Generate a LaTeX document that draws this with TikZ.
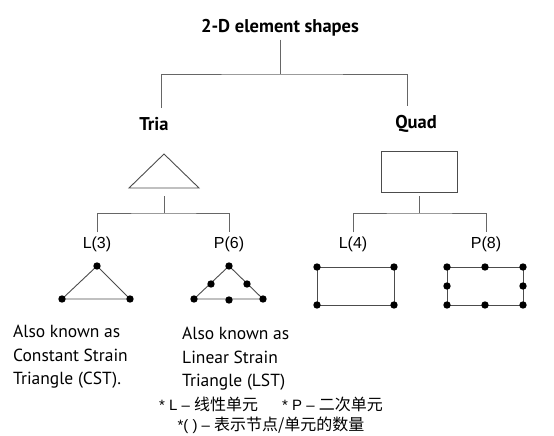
\documentclass[tikz,border=0pt]{standalone}
\usepackage{fontspec}
\setmainfont{PT Sans}
\newfontfamily\labelfont{Liberation Sans}
\newfontfamily\cjk{Noto Sans CJK SC}
\usetikzlibrary{positioning}
\newcommand\zh[1]{{\cjk\fontsize{16}{20}\selectfont #1}}

\begin{document}
\begin{tikzpicture}[x=1pt,y=-1pt,
  head/.style={font=\fontsize{18.5}{22}\selectfont\bfseries,inner sep=3pt},
  elem/.style={font=\labelfont\fontsize{16}{19}\selectfont,inner sep=4pt},
  note/.style={font=\fontsize{17.5}{23.5}\selectfont,align=left,inner sep=0pt},
  branch/.style={draw=black!60,line width=0.9pt},
  shp/.style={draw=black!70,line width=0.9pt}]
\useasboundingbox (0,0) rectangle (554,436);
\node[head] (title) at (280,28) {2-D element shapes};
\node[head] (tria) at (154,124) {Tria};
\node[head] (quad) at (416,124) {Quad};
\coordinate (j0) at (280,74);
\draw[branch] (title) -- (j0);
\draw[branch] ([xshift=7pt,yshift=6pt]tria.north) |- (j0) -| ([xshift=-9pt,yshift=6pt]quad.north);

\draw[shp] (129,188) -- (164,154) -- (199,188) -- cycle;
\coordinate (triashape) at (164,188);
\node[shp,minimum width=76pt,minimum height=41pt,inner sep=0pt] (quadshape) at (419,171.5) {};

\node[elem] (l3) at (97,244) {L(3)};
\node[elem] (p6) at (229,244) {P(6)};
\node[elem] (l4) at (353,244) {L(4)};
\node[elem] (p8) at (486,244) {P(8)};
\coordinate (j1) at (164,213);
\coordinate (j2) at (419,213);
\draw[branch] ([yshift=-8pt]triashape) -- (j1);
\draw[branch] ([yshift=-4pt]quadshape.south) -- (j2);
\draw[branch] (l3) |- (j1) -| (p6);
\draw[branch] (l4) |- (j2) -| (p8);

\draw[shp] (97,266) -- (130,299) -- (62,299) -- cycle;
\draw[shp] (229,266) -- (263,299) -- (194,299) -- cycle;
\draw[shp] (317,267) rectangle (394,305);
\draw[shp] (447,267) rectangle (523,305);
\foreach \x/\y in {97/266,130/299,62/299,
    229/266,263/299,194/299,211/284,247/284,229/300,
    317/267,394/267,317/305,394/305,
    447/267,485/267,523/267,447/286,523/286,447/305,485/305,523/305}
  \fill (\x,\y) circle (3.7);

\node[note,anchor=north west] (cst) at (13,325) {Also known as\\Constant Strain\\Triangle (CST).};
\node[note,anchor=north west] (lst) at (182,327) {Also known as\\Linear Strain\\Triangle (LST)};
\node[font=\labelfont\fontsize{15}{20}\selectfont,align=center,inner sep=0pt] (legend) at (271,415)
  {* L – \zh{线性单元}\hspace{24pt}* P – \zh{二次单元}\\*( ) – \zh{表示节点/单元的数量}};
\end{tikzpicture}
\end{document}
